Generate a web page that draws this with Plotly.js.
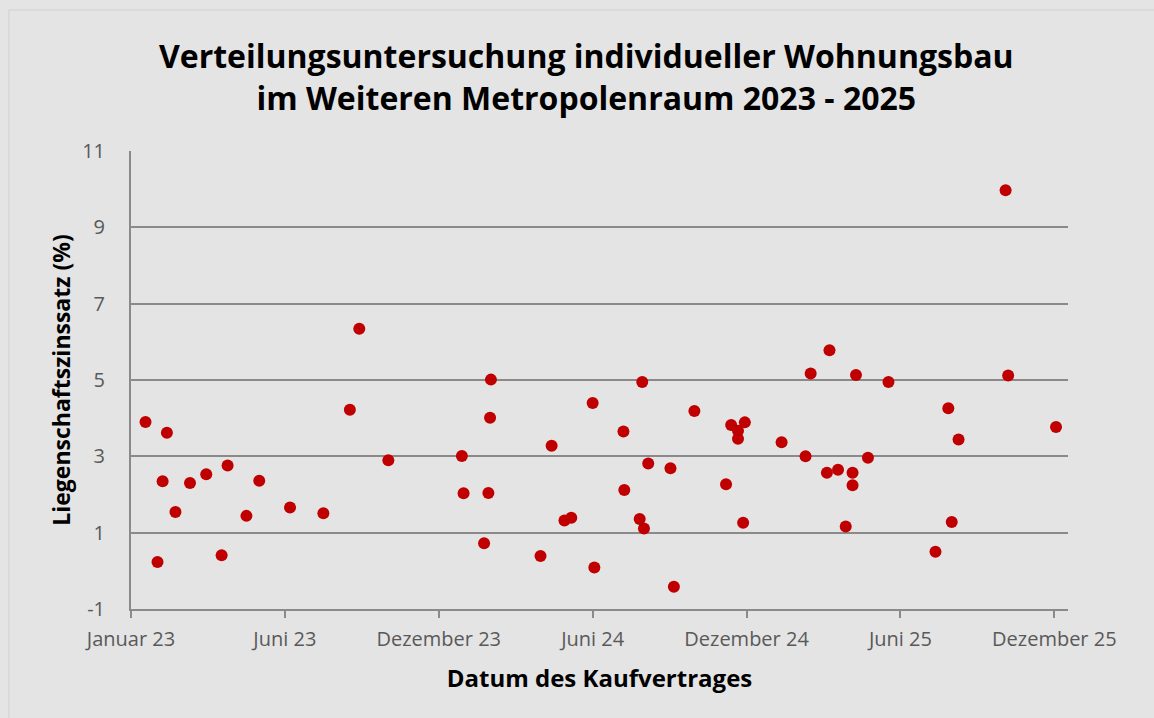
<!DOCTYPE html>
<html>
<head>
<meta charset="utf-8">
<script src="https://cdn.plot.ly/plotly-3.0.1.min.js"></script>
<style>
  html, body { margin: 0; padding: 0; background: #e4e4e4; }
  #chart { width: 1154px; height: 718px; }
</style>
</head>
<body>
<div id="chart"></div>
<script>
// Datum des Kaufvertrages
const kaufdatum = [
  '2023-01-18','2023-02-01','2023-02-07','2023-02-12','2023-02-22','2023-03-11','2023-03-30','2023-04-17',
  '2023-04-24','2023-05-16','2023-05-31','2023-07-06','2023-08-14','2023-09-14','2023-09-25','2023-10-29',
  '2024-01-23','2024-01-25','2024-02-18','2024-02-23','2024-02-25','2024-02-26','2024-04-24','2024-05-07',
  '2024-05-22','2024-05-30','2024-06-24','2024-06-26','2024-07-30','2024-07-31','2024-08-18','2024-08-21',
  '2024-08-23','2024-08-28','2024-09-23','2024-09-27','2024-10-21','2024-11-27','2024-12-03','2024-12-11',
  '2024-12-11','2024-12-17','2024-12-19','2025-01-31','2025-02-28','2025-03-06','2025-03-25','2025-03-28',
  '2025-04-07','2025-04-16','2025-04-24','2025-04-24','2025-04-28','2025-05-12','2025-06-05','2025-07-30',
  '2025-08-14','2025-08-18','2025-08-26','2025-10-20','2025-10-23','2025-12-18'
];
// Liegenschaftszinssatz (%)
const zinssatz = [
  3.90, 0.23, 2.35, 3.62, 1.54, 2.30, 2.53, 0.41,
  2.76, 1.44, 2.36, 1.66, 1.51, 4.22, 6.34, 2.90,
  3.01, 2.03, 0.72, 2.04, 4.01, 5.01, 0.39, 3.28,
  1.32, 1.39, 4.40, 0.09, 3.65, 2.12, 1.36, 4.95,
  1.11, 2.81, 2.69, -0.42, 4.19, 2.27, 3.82, 3.67,
  3.46, 1.26, 3.89, 3.37, 3.00, 5.17, 2.57, 5.78,
  2.65, 1.16, 2.57, 2.24, 5.13, 2.96, 4.95, 0.50,
  4.26, 1.28, 3.44, 9.97, 5.12, 3.77
];
// X-Achse: Teilstriche alle 180 Tage ab 1. Januar 2023
const xTickWerte = ['2023-01-01','2023-06-30','2023-12-27','2024-06-24','2024-12-21','2025-06-19','2025-12-16'];
const xTickTexte = ['Januar 23','Juni 23','Dezember 23','Juni 24','Dezember 24','Juni 25','Dezember 25'];
const xBereich = ['2023-01-01','2026-01-01'];
const yTickWerte = [-1, 1, 3, 5, 7, 9, 11];
const yTickTexte = ['-1', '1', '3', '5', '7', '9', '11'];
const yBereich = [-1, 11];

const gridGrau = '#8a8a8a';
const textGrau = '#595959';

const trace = {
  type: 'scatter',
  mode: 'markers',
  x: kaufdatum,
  y: zinssatz,
  marker: { color: '#c00000', size: 12, line: { width: 0 } },
  hoverinfo: 'x+y'
};

const layout = {
  width: 1154,
  height: 718,
  paper_bgcolor: '#e4e4e4',
  plot_bgcolor: '#e4e4e4',
  margin: { l: 131, r: 86, t: 151, b: 109 },
  showlegend: false,
  font: { family: '"Open Sans", sans-serif', color: textGrau },
  title: {
    text: '<b>Verteilungsuntersuchung individueller Wohnungsbau<br>im Weiteren Metropolenraum 2023 - 2025</b>',
    font: { family: '"Open Sans", sans-serif', size: 32, color: '#000000' },
    xref: 'container', x: 0.508, xanchor: 'center',
    yref: 'container', y: 0.905, yanchor: 'middle'
  },
  xaxis: {
    type: 'date',
    range: xBereich,
    tickmode: 'array',
    tickvals: xTickWerte,
    ticktext: xTickTexte,
    showgrid: false,
    zeroline: false,
    showline: true,
    linecolor: gridGrau,
    linewidth: 2,
    ticks: 'outside',
    ticklen: 7,
    tickwidth: 2,
    tickcolor: gridGrau,
    ticklabelstandoff: 4,
    tickfont: { size: 20, color: textGrau },
    title: {
      text: '<b>Datum des Kaufvertrages</b>',
      font: { size: 24, color: '#000000' },
      standoff: 19
    }
  },
  yaxis: {
    range: yBereich,
    tickmode: 'array',
    tickvals: yTickWerte,
    ticktext: yTickTexte,
    showgrid: true,
    gridcolor: gridGrau,
    gridwidth: 2,
    zeroline: false,
    showline: true,
    linecolor: gridGrau,
    linewidth: 2,
    ticks: 'outside',
    ticklen: 20,
    tickcolor: 'rgba(0,0,0,0)',
    tickfont: { size: 20, color: textGrau },
    title: {
      text: '<b>Liegenschaftszinssatz (%)</b>',
      font: { size: 23, color: '#000000' },
      standoff: 5
    }
  },
  shapes: [{
    type: 'rect', xref: 'paper', yref: 'paper',
    x0: (9 - 131) / 937, x1: (1160 - 131) / 937,
    y0: (609 - 725) / 458, y1: (609 - 10) / 458,
    line: { width: 1.5, color: '#d6d6d6' }, fillcolor: 'rgba(0,0,0,0)', layer: 'below'
  }]
};

Plotly.newPlot('chart', [trace], layout, { displayModeBar: false, staticPlot: true });
</script>
</body>
</html>
